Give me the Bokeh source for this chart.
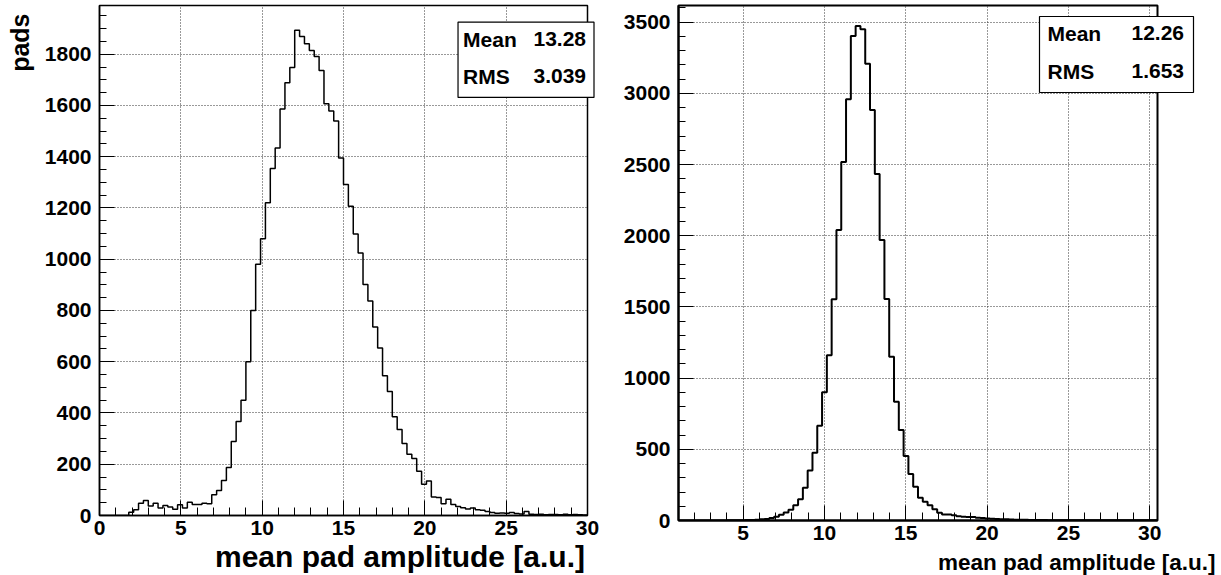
import numpy as np
from bokeh.plotting import figure
from bokeh.layouts import row
from bokeh.models import Range1d, SingleIntervalTicker, Title
from bokeh.core.properties import value
from bokeh.embed import file_html
from bokeh.resources import INLINE

# ---------------- data ----------------
left_bin_start = 0.0
left_bin_width = 0.3
left_counts = [0, 0, 0, 0, 0, 0,
               13, 22, 48, 59, 37, 48, 29, 39, 33, 24, 42, 29, 52, 43, 43, 48, 46, 81, 98, 137, 187, 289, 367, 450,
               600, 800, 980, 1080,
               1220, 1354, 1434, 1586, 1689, 1748, 1893, 1869, 1841, 1814, 1791, 1736, 1607, 1578, 1539, 1395,
               1292, 1207, 1098, 1024, 901, 837, 736, 654, 545,
               484, 385, 336, 281, 239, 222, 173, 122, 135, 72, 70, 46, 63, 43, 35, 30, 25, 29, 22, 20,
               16, 12, 9, 10, 9, 12, 8, 6, 16, 5,
               4, 5, 3, 4, 4, 3, 5, 3, 4, 3, 2]

right_bin_start = 1.0
right_bin_width = 0.295
right_counts = [0, 0, 0, 0, 0, 0, 0, 0, 0, 0,
                1, 1, 2, 2, 3, 4, 5, 8, 10,
                17, 27, 41, 57, 76, 107, 149, 230, 352, 476,
                666, 900, 1160, 1553, 2040, 2518, 2958, 3402, 3472, 3449,
                3208, 2883, 2433, 1970, 1555, 1150, 834, 636, 453, 327,
                237, 160, 132, 107, 79, 55, 43, 43, 36, 30,
                27, 24, 24, 19, 17, 14, 12,
                11, 9, 8, 7, 6, 5, 5, 4, 4, 3, 3,
                2, 2, 2, 2, 2, 1, 2, 1, 1, 2, 1, 1, 1, 1, 1, 1, 1, 1, 1, 1, 1, 1, 1]

stat_names = ["Mean", "RMS"]
left_stat_values = ["13.28", "3.039"]
right_stat_values = ["12.26", "1.653"]

x_title = "mean pad amplitude [a.u.]"
y_title = "pads"

FONT = "Liberation Sans"


def style(p, xmaj, xminor, ymaj, yminor, lw):
    p.xaxis.ticker = SingleIntervalTicker(interval=xmaj, num_minor_ticks=xminor)
    p.yaxis.ticker = SingleIntervalTicker(interval=ymaj, num_minor_ticks=yminor)
    for ax in (p.xaxis, p.yaxis):
        ax.major_label_text_font = FONT
        ax.major_label_text_font_style = "bold"
        ax.major_label_text_font_size = "21px"
        ax.major_label_text_color = "black"
        ax.axis_line_color = "black"
        ax.axis_line_width = lw
        ax.major_tick_line_color = "black"
        ax.minor_tick_line_color = "black"
        ax.major_tick_out = 0
        ax.minor_tick_out = 0
    p.yaxis.major_label_standoff = 8
    p.xaxis.major_label_standoff = 5
    p.xaxis.major_tick_in = 15
    p.xaxis.minor_tick_in = 8
    p.yaxis.major_tick_in = 15
    p.yaxis.minor_tick_in = 7
    p.grid.grid_line_color = "#333333"
    p.grid.grid_line_dash = "1 2"
    p.grid.grid_line_width = 1
    p.outline_line_color = "black"
    p.outline_line_width = lw
    p.background_fill_color = "white"
    p.border_fill_color = "white"


def stats_box(p, box, names, vals, name_x, val_x, val_align, row_y):
    l, r, t, b = box
    p.quad(left=[l], right=[r], top=[t], bottom=[b], fill_color="white", fill_alpha=1,
           line_color="black", line_width=1.2, level="overlay")
    p.text(x=[name_x] * len(names), y=row_y, text=names, text_font=value(FONT),
           text_font_style="bold", text_font_size="21px", text_align="left",
           text_baseline="middle", text_color="black", level="overlay")
    p.text(x=[val_x] * len(vals), y=row_y, text=vals, text_font=value(FONT),
           text_font_style="bold", text_font_size="21px", text_align=val_align,
           text_baseline="middle", text_color="black", level="overlay")


def axis_title(p, anchor, offset, text, size):
    # anchored at a point inside the frame, shifted in pixels below the axis
    p.text(x=[anchor[0]], y=[anchor[1]], text=[text], x_offset=offset[0], y_offset=offset[1],
           text_font=value(FONT), text_font_style="bold", text_font_size=size,
           text_align="right", text_baseline="alphabetic", text_color="black", level="overlay")


# ---------------- left ----------------
L_X0, L_PX = 99.4, 16.27
L_Y0, L_PY = 515.0, 0.255
lx = lambda px: (px - L_X0) / L_PX
ly = lambda py: (L_Y0 - py) / L_PY

p1 = figure(frame_width=488, frame_height=510, output_backend="svg", toolbar_location=None,
            x_range=Range1d(0, 30), y_range=Range1d(0, 1990),
            min_border_left=99, min_border_right=33, min_border_top=5, min_border_bottom=60)
style(p1, 5, 5, 200, 4, 1.5)
le = [left_bin_start + left_bin_width * i for i in range(len(left_counts) + 1)]
p1.step(x=le, y=left_counts + [left_counts[-1]], mode="after", line_color="black", line_width=1.5)
stats_box(p1, (lx(458), lx(594), ly(24), ly(99)), stat_names, left_stat_values,
          lx(463), lx(586), "right", [ly(41), ly(78)])
axis_title(p1, (lx(580), ly(510)), (5, 46), x_title, "30px")

p1.add_layout(Title(text=y_title, align="right", offset=8, vertical_align="top", standoff=11,
                    text_font=FONT, text_font_style="bold", text_font_size="25px",
                    text_color="black"), "left")

# ---------------- right ----------------
R_X0, R_PX = 822.0, 16.26
R_Y0, R_PY = 520.0, 0.1424
rx = lambda px: 10 + (px - R_X0) / R_PX
ry = lambda py: (R_Y0 - py) / R_PY

p2 = figure(frame_width=479, frame_height=515, output_backend="svg", toolbar_location=None,
            x_range=Range1d(rx(676), rx(1155)), y_range=Range1d(0, ry(5)),
            min_border_left=56, min_border_right=65, min_border_top=5, min_border_bottom=55)
style(p2, 5, 5, 500, 5, 2)
re = [right_bin_start + right_bin_width * i for i in range(len(right_counts) + 1)]
p2.step(x=re, y=right_counts + [right_counts[-1]], mode="after", line_color="black", line_width=2)
stats_box(p2, (rx(1037), rx(1191), ry(16), ry(92)), stat_names, right_stat_values,
          rx(1045), rx(1129), "left", [ry(32.5), ry(70.5)])
axis_title(p2, (rx(1150), ry(515)), (63, 47), x_title, "22.5px")

layout = row(p1, p2)
open("out.html", "w").write(file_html(layout, INLINE))
